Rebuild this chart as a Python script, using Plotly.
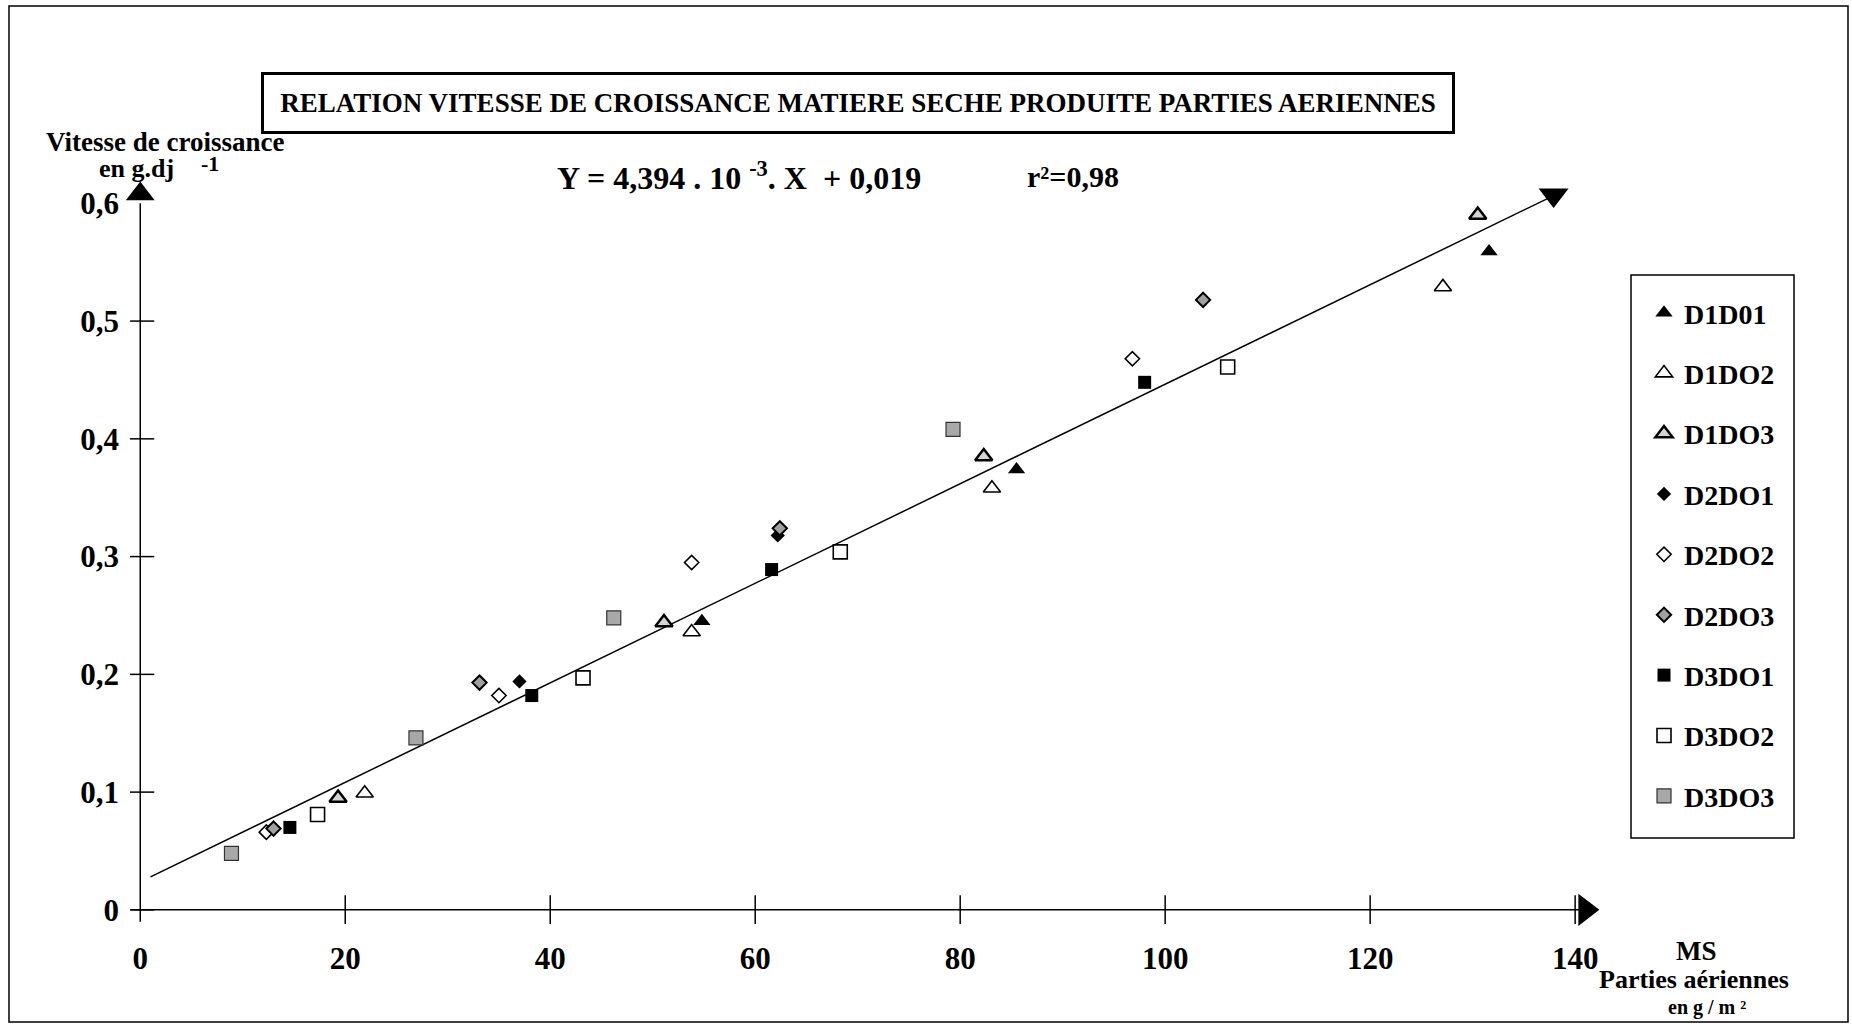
import plotly.graph_objects as go

# MS parties aeriennes (g/m2) -> vitesse de croissance (g/dj)
d1d01_x = [54.8, 85.5, 131.6]
d1d01_y = [0.245, 0.374, 0.559]
d1do2_x = [21.9, 53.8, 83.1, 127.1]
d1do2_y = [0.099, 0.236, 0.358, 0.529]
d1do3_x = [19.3, 51.1, 82.3, 130.5]
d1do3_y = [0.095, 0.244, 0.385, 0.590]
d2do1_x = [37.0, 62.2]
d2do1_y = [0.194, 0.318]
d2do2_x = [12.3, 35.0, 53.8, 96.8]
d2do2_y = [0.066, 0.182, 0.295, 0.468]
d2do3_x = [13.0, 33.1, 62.4, 103.7]
d2do3_y = [0.069, 0.193, 0.324, 0.518]
d3do1_x = [14.6, 38.2, 61.6, 98.0]
d3do1_y = [0.070, 0.182, 0.289, 0.448]
d3do2_x = [17.3, 43.2, 68.3, 106.1]
d3do2_y = [0.081, 0.197, 0.304, 0.461]
d3do3_x = [8.9, 26.9, 46.2, 79.3]
d3do3_y = [0.048, 0.146, 0.248, 0.408]

# droite de regression telle que tracee
droite_x = [1.0, 137.3]
droite_y = [0.028, 0.604]

x_ticks = [0, 20, 40, 60, 80, 100, 120, 140]
x_labels = ["0", "20", "40", "60", "80", "100", "120", "140"]
y_ticks = [0, 0.1, 0.2, 0.3, 0.4, 0.5, 0.6]
y_labels = ["0", "0,1", "0,2", "0,3", "0,4", "0,5", "0,6"]

W, H = 1852, 1031
L, R, T, B = 130, 241, 168, 107
FONT = "Liberation Serif, Times New Roman, serif"


def px(x):
    return (x - L) / (W - L - R)


def py(y):
    return (H - B - y) / (H - T - B)


series = [
    ("D1D01", d1d01_x, d1d01_y, dict(symbol="triangle-up", size=15, color="black")),
    ("D1DO2", d1do2_x, d1do2_y, dict(symbol="triangle-up-open", size=15, color="black", line=dict(width=1.6))),
    ("D1DO3", d1do3_x, d1do3_y, dict(symbol="triangle-up", size=15, color="#d4d4d4", line=dict(width=2.5, color="black"))),
    ("D2DO1", d2do1_x, d2do1_y, dict(symbol="diamond", size=11, color="black")),
    ("D2DO2", d2do2_x, d2do2_y, dict(symbol="diamond-open", size=11, color="black", line=dict(width=1.6))),
    ("D2DO3", d2do3_x, d2do3_y, dict(symbol="diamond", size=11, color="#a0a0a0", line=dict(width=2, color="black"))),
    ("D3DO1", d3do1_x, d3do1_y, dict(symbol="square", size=13, color="black")),
    ("D3DO2", d3do2_x, d3do2_y, dict(symbol="square-open", size=14, color="black", line=dict(width=1.6))),
    ("D3DO3", d3do3_x, d3do3_y, dict(symbol="square", size=14, color="#a8a8a8", line=dict(width=1.2, color="#333"))),
]

fig = go.Figure()

# axes dessines
fig.add_trace(go.Scatter(x=[-0.9, 141], y=[0, 0], mode="lines", line=dict(color="black", width=1.5),
                         showlegend=False, hoverinfo="skip"))
fig.add_trace(go.Scatter(x=[0, 0], y=[-0.01, 0.6], mode="lines", line=dict(color="black", width=1.5),
                         showlegend=False, hoverinfo="skip"))
fig.add_trace(go.Scatter(x=x_ticks[1:], y=[0] * (len(x_ticks) - 1), mode="markers",
                         marker=dict(symbol="line-ns", size=21, line=dict(width=1.5, color="black")),
                         showlegend=False, hoverinfo="skip"))
fig.add_trace(go.Scatter(x=[0] * (len(y_ticks) - 1), y=y_ticks[:-1], mode="markers",
                         marker=dict(symbol="line-ew", size=20, line=dict(width=1.5, color="black")),
                         showlegend=False, hoverinfo="skip"))
fig.add_trace(go.Scatter(x=[141], y=[0], mode="markers", cliponaxis=False,
                         marker=dict(symbol="triangle-right", size=28, color="black"),
                         showlegend=False, hoverinfo="skip"))
fig.add_trace(go.Scatter(x=[0], y=[0.608], mode="markers", cliponaxis=False,
                         marker=dict(symbol="triangle-up", size=25, color="black"),
                         showlegend=False, hoverinfo="skip"))

# droite et sa fleche
fig.add_trace(go.Scatter(x=droite_x, y=droite_y, mode="lines", line=dict(color="black", width=1.5),
                         showlegend=False, hoverinfo="skip"))
fig.add_trace(go.Scatter(x=[droite_x[-1] + 0.6], y=[droite_y[-1] + 0.003], mode="markers", cliponaxis=False,
                         marker=dict(symbol="triangle-down", size=26, color="black"),
                         showlegend=False, hoverinfo="skip"))

for name, xs, ys, mk in series:
    fig.add_trace(go.Scatter(x=xs, y=ys, mode="markers", name=name, marker=mk,
                             legendgroup=name, cliponaxis=False))

fig.update_layout(
    width=W, height=H,
    margin=dict(l=L, r=R, t=T, b=B),
    plot_bgcolor="white", paper_bgcolor="white",
    font=dict(family=FONT, color="black"),
    showlegend=True,
    legend=dict(x=px(1644), y=py(288), xanchor="left", yanchor="top",
                borderwidth=0, bgcolor="rgba(0,0,0,0)",
                font=dict(size=28, family=FONT, weight="bold"),
                tracegroupgap=21, itemwidth=30),
    xaxis=dict(range=[-1, 143.5], showgrid=False, zeroline=False, showline=False, ticks="",
               tickvals=x_ticks, ticktext=x_labels, ticklabelstandoff=13,
               tickfont=dict(size=31, family=FONT, weight="bold")),
    yaxis=dict(range=[-0.012, 0.63], showgrid=False, zeroline=False, showline=False, ticks="",
               tickvals=y_ticks, ticktext=y_labels, ticklabelstandoff=10,
               tickfont=dict(size=31, family=FONT, weight="bold")),
)

# cadre general et cadre de legende
fig.add_shape(type="rect", xref="paper", yref="paper", x0=px(9), x1=px(1848), y0=py(1022), y1=py(6),
              line=dict(color="black", width=1.5))
fig.add_shape(type="rect", xref="paper", yref="paper", x0=px(1631), x1=px(1794), y0=py(838), y1=py(275),
              line=dict(color="black", width=1.5))

bold = lambda s: dict(size=s, family=FONT, weight="bold", color="black")


def texte(x, y, t, size, **kw):
    fig.add_annotation(xref="paper", yref="paper", x=px(x), y=py(y), xanchor="center", yanchor="middle",
                       showarrow=False, text=t, font=bold(size), **kw)


texte(858, 103, "RELATION VITESSE DE CROISSANCE MATIERE SECHE PRODUITE PARTIES AERIENNES", 27,
      bordercolor="black", borderwidth=3, borderpad=4, width=1180, height=48, bgcolor="white")
texte(739, 176, "Y = 4,394 . 10 <sup>-3</sup>. X  + 0,019", 32)
texte(1073, 176, "r²=0,98", 30)
texte(165, 142, "Vitesse de croissance", 27)
texte(136, 168, "en g.dj", 26)
texte(210, 164, "-1", 22)
texte(1696, 951, "MS", 27)
texte(1694, 979, "Parties aériennes", 26)
texte(1707, 1007, "en g / m ²", 20)

fig.write_html("out.html", config={"displayModeBar": False},
               post_script="document.body.style.margin='0';document.body.style.overflow='hidden';")
